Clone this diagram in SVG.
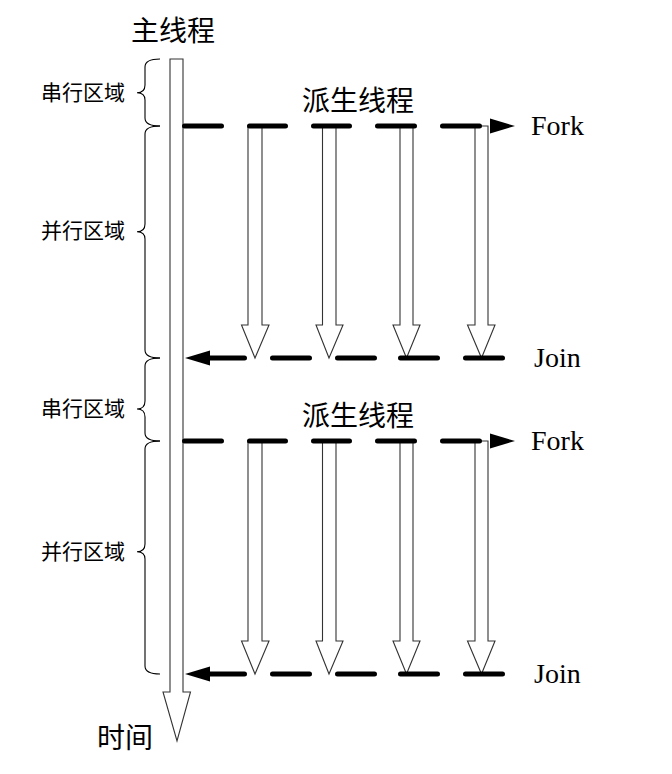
<svg xmlns="http://www.w3.org/2000/svg" width="672" height="774" viewBox="0 0 672 774">
<style>
.cjk{font-family:"Liberation Serif","Noto Sans CJK SC",serif;fill:#000}
.big{font-size:28px}
.small{font-size:21px}
.lat{font-family:"Liberation Serif",serif;font-size:28px;fill:#000}
.arr{fill:#fff;stroke:#333;stroke-width:1.1}
.dash{stroke:#000;stroke-width:5;stroke-linecap:round;fill:none}
.brace{fill:none;stroke:#000;stroke-width:1.1}
.head{fill:#000}
</style>
<rect width="672" height="774" fill="#fff"/>
<g id="main-thread">
<polygon class="arr" points="170,59 183,59 183,692 190.5,692 177,741 163,692 170,692"/>
<text class="cjk big" x="131" y="41">主线程</text>
<text class="cjk big" x="97" y="748">时间</text>
</g>
<g id="braces">
<path class="brace" d="M160,59 Q145,59 145,67 L145,85 Q145,92.7 137,92.7 Q145,92.7 145,100 L145,118 Q145,126 160,126"/>
<path class="brace" d="M160,126 Q145,126 145,134 L145,224 Q145,231.7 137,231.7 Q145,231.7 145,239 L145,350 Q145,358 160,358"/>
<path class="brace" d="M160,358 Q145,358 145,366 L145,401 Q145,409 137,409 Q145,409 145,417 L145,433 Q145,441 160,441"/>
<path class="brace" d="M160,441 Q145,441 145,449 L145,544 Q145,551.7 137,551.7 Q145,551.7 145,559 L145,666 Q145,674 160,674"/>
<text class="cjk small" x="41" y="99.5">串行区域</text>
<text class="cjk small" x="41" y="237.5">并行区域</text>
<text class="cjk small" x="41" y="416">串行区域</text>
<text class="cjk small" x="41" y="559">并行区域</text>
</g>
<g id="region1">
<g id="threads1">
<polygon class="arr" points="248,126 262,126 262,325 269,325 255,358 241.5,325 248,325"/>
<polygon class="arr" points="322.5,126 336,126 336,325 343,325 329,358 316,325 322.5,325"/>
<polygon class="arr" points="400,126 413,126 413,325 420,325 406.5,358 393,325 400,325"/>
<polygon class="arr" points="475,126 488,126 488,325 495,325 481.5,358 467.5,325 475,325"/>
</g>
<text class="cjk big" x="302" y="110.5">派生线程</text>
</g>
<g id="region2">
<g id="threads2">
<polygon class="arr" points="248,441 262,441 262,641 269,641 255,674 241.5,641 248,641"/>
<polygon class="arr" points="322.5,441 336,441 336,641 343,641 329,674 316,641 322.5,641"/>
<polygon class="arr" points="400,441 413,441 413,641 420,641 406.5,674 393,641 400,641"/>
<polygon class="arr" points="475,441 488,441 488,641 495,641 481.5,674 467.5,641 475,641"/>
</g>
<text class="cjk big" x="302" y="425.5">派生线程</text>
</g>
<g id="connectors">
<g id="fork1">
<path class="dash" d="M184.5,126H221.5M249.5,126H285.5M313.5,126H349.5M377.5,126H414.5M442.5,126H479.5"/>
<polygon class="head" points="490,118.5 515,126 490,133.5"/>
</g>
<g id="join1">
<path class="dash" d="M209,358H244.5M272.5,358H309.5M337.5,358H374.5M400.5,358H437.5M465.5,358H502.5"/>
<polygon class="head" points="185,358 210,350.5 210,365.5"/>
</g>
<g id="fork2">
<path class="dash" d="M184.5,441H221.5M249.5,441H285.5M313.5,441H349.5M377.5,441H414.5M442.5,441H479.5"/>
<polygon class="head" points="490,433.5 515,441 490,448.5"/>
</g>
<g id="join2">
<path class="dash" d="M209,674H244.5M272.5,674H309.5M337.5,674H374.5M400.5,674H437.5M465.5,674H502.5"/>
<polygon class="head" points="185,674 210,666.5 210,681.5"/>
</g>
</g>
<g id="labels">
<text class="lat" x="531" y="135">Fork</text>
<text class="lat" x="534" y="367">Join</text>
<text class="lat" x="531" y="450">Fork</text>
<text class="lat" x="534" y="683">Join</text>
</g>
</svg>
